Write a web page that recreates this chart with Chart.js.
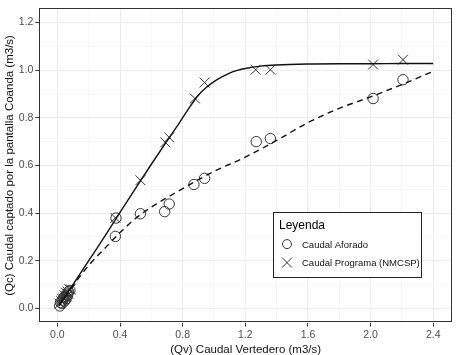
<!DOCTYPE html>
<html><head><meta charset="utf-8">
<script src="https://cdn.jsdelivr.net/npm/chart.js@4"></script>
<style>html,body{margin:0;padding:0;background:#fff}</style>
</head><body>
<canvas id="c" width="460" height="355"></canvas>
<script>
// ---- data ----
const aforadoX = [0.015,0.02,0.03,0.035,0.04,0.045,0.05,0.055,0.06,0.065,0.07,0.08,
  0.37,0.374,0.53,0.685,0.714,0.872,0.94,1.27,1.36,2.016,2.207];
const aforadoY = [0.01,0.025,0.02,0.035,0.045,0.03,0.05,0.04,0.06,0.055,0.07,0.075,
  0.302,0.379,0.397,0.406,0.438,0.52,0.546,0.70,0.713,0.881,0.96];
const programaX = [0.015,0.025,0.03,0.04,0.045,0.05,0.055,0.06,0.065,0.07,0.075,0.085,
  0.37,0.53,0.689,0.714,0.878,0.94,1.266,1.36,2.016,2.207];
const programaY = [0.02,0.03,0.04,0.04,0.055,0.045,0.065,0.05,0.07,0.06,0.08,0.08,
  0.38,0.538,0.697,0.718,0.881,0.948,1.002,1.002,1.024,1.044];
const curvaProgramaX = [0.01,0.1,0.2,0.3,0.4,0.5,0.6,0.7,0.78,0.85,0.9,0.95,1.0,1.05,1.1,1.15,1.2,1.3,1.4,1.6,1.8,2.0,2.2,2.4];
const curvaProgramaY = [0.01,0.1,0.2,0.3,0.403,0.505,0.605,0.703,0.78,0.85,0.895,0.927,0.952,0.972,0.988,0.999,1.007,1.017,1.022,1.026,1.027,1.027,1.028,1.028];
const curvaAforadoX = [0.01,0.1,0.2,0.3,0.4,0.5,0.6,0.7,0.8,0.9,1.0,1.2,1.4,1.6,1.8,2.0,2.2,2.4];
const curvaAforadoY = [0.01,0.095,0.18,0.25,0.318,0.378,0.425,0.465,0.503,0.54,0.575,0.635,0.705,0.78,0.84,0.888,0.94,0.995];
const xMajor = [0,0.4,0.8,1.2,1.6,2.0,2.4];
const xMinor = [0.2,0.6,1.0,1.4,1.8,2.2];
const xTickLabels = ['0.0','0.4','0.8','1.2','1.6','2.0','2.4'];
const yMajor = [0,0.2,0.4,0.6,0.8,1.0,1.2];
const yMinor = [0.1,0.3,0.5,0.7,0.9,1.1];
const yTickLabels = ['0.0','0.2','0.4','0.6','0.8','1.0','1.2'];
const labelAforado = 'Caudal Aforado';
const labelPrograma = 'Caudal Programa (NMCSP)';
const legendTitle = 'Leyenda';
const xTitle = '(Qv) Caudal Vertedero (m3/s)';
const yTitle = '(Qc) Caudal captado por la pantalla Coanda (m3/s)';

const zip = (xs, ys) => xs.map((x, i) => ({x, y: ys[i]}));
const FONT = "'Liberation Sans', Arial, sans-serif";
const isIn = (arr, v) => arr.some(a => Math.abs(a - v) < 1e-9);

function makeTicks(major, minor) {
  return scale => {
    scale.ticks = major.concat(minor).sort((a,b)=>a-b).map(v => ({value: v}));
  };
}

const panelBorder = {
  id: 'panelBorder',
  afterDatasetsDraw(chart) {
    const {ctx, chartArea: a} = chart;
    ctx.save();
    ctx.strokeStyle = '#333';
    ctx.lineWidth = 1;
    ctx.strokeRect(Math.round(a.left)+0.5, Math.round(a.top)+0.5, Math.round(a.right-a.left)-1, Math.round(a.bottom-a.top)-1);
    ctx.restore();
  }
};

const customLegend = {
  id: 'customLegend',
  afterDraw(chart) {
    const {ctx, chartArea: a} = chart;
    const left = a.right - 179, top = a.bottom - 111, w = 148, h = 65;
    ctx.save();
    ctx.fillStyle = '#fff';
    ctx.fillRect(left, top, w, h);
    ctx.strokeStyle = '#222';
    ctx.lineWidth = 1;
    ctx.strokeRect(Math.round(left)+0.5, Math.round(top)+0.5, w, h);
    ctx.fillStyle = '#000';
    ctx.textBaseline = 'alphabetic';
    ctx.font = `12px ${FONT}`;
    ctx.fillText(legendTitle, left + 6, top + 17);
    ctx.font = `9.5px ${FONT}`;
    const items = chart.data.datasets.filter(d => d.legend);
    items.forEach((d, i) => {
      const cy = top + 32.5 + i * 18.5;
      const cx = left + 14;
      ctx.strokeStyle = '#333';
      ctx.lineWidth = 1;
      ctx.beginPath();
      if (d.pointStyle === 'circle') {
        ctx.arc(cx, cy, 4.5, 0, Math.PI * 2);
      } else {
        ctx.moveTo(cx - 5, cy - 5); ctx.lineTo(cx + 5, cy + 5);
        ctx.moveTo(cx + 5, cy - 5); ctx.lineTo(cx - 5, cy + 5);
      }
      ctx.stroke();
      ctx.fillStyle = '#111';
      ctx.fillText(d.label, left + 29, cy + 3.5);
    });
    ctx.restore();
  }
};

new Chart(document.getElementById('c'), {
  type: 'scatter',
  data: {
    datasets: [
      { label: 'curva programa', data: zip(curvaProgramaX, curvaProgramaY), showLine: true,
        borderColor: '#111', borderWidth: 1.4, pointRadius: 0, cubicInterpolationMode: 'monotone', fill: false },
      { label: 'curva aforado', data: zip(curvaAforadoX, curvaAforadoY), showLine: true,
        borderColor: '#111', borderWidth: 1.4, borderDash: [6, 4.5], pointRadius: 0, cubicInterpolationMode: 'monotone', fill: false },
      { label: labelAforado, legend: true, data: zip(aforadoX, aforadoY), pointStyle: 'circle', pointRadius: 5.2,
        borderColor: '#333', backgroundColor: 'rgba(0,0,0,0)', borderWidth: 1, showLine: false },
      { label: labelPrograma, legend: true, data: zip(programaX, programaY), pointStyle: 'crossRot', pointRadius: 7,
        borderColor: '#333', backgroundColor: 'rgba(0,0,0,0)', borderWidth: 1, showLine: false }
    ]
  },
  options: {
    responsive: false,
    animation: false,
    devicePixelRatio: 1,
    layout: { padding: { left: 1, right: 0, top: 6, bottom: -2 } },
    plugins: { legend: { display: false }, tooltip: { enabled: false } },
    scales: {
      x: {
        type: 'linear', min: -0.115, max: 2.52,
        afterBuildTicks: makeTicks(xMajor, xMinor),
        ticks: {
          autoSkip: false, maxRotation: 0, padding: 2, color: '#4d4d4d',
          font: { family: FONT, size: 10.5 },
          callback: v => { const i = xMajor.findIndex(m => Math.abs(m - v) < 1e-9); return i >= 0 ? xTickLabels[i] : ''; }
        },
        grid: {
          color: c => isIn(xMajor, c.tick.value) ? '#ebebeb' : '#f3f3f3',
          lineWidth: c => isIn(xMajor, c.tick.value) ? 1 : 0.7,
          tickColor: c => isIn(xMajor, c.tick.value) ? '#333' : 'rgba(0,0,0,0)',
          tickLength: 4
        },
        border: { display: false },
        title: { display: true, text: xTitle, color: '#111', font: { family: FONT, size: 11.5 }, padding: { top: 0, bottom: 0 } }
      },
      y: {
        type: 'linear', min: -0.06, max: 1.26,
        afterBuildTicks: makeTicks(yMajor, yMinor),
        ticks: {
          autoSkip: false, padding: 2, color: '#4d4d4d',
          font: { family: FONT, size: 10.5 },
          callback: v => { const i = yMajor.findIndex(m => Math.abs(m - v) < 1e-9); return i >= 0 ? yTickLabels[i] : ''; }
        },
        grid: {
          color: c => isIn(yMajor, c.tick.value) ? '#ebebeb' : '#f3f3f3',
          lineWidth: c => isIn(yMajor, c.tick.value) ? 1 : 0.7,
          tickColor: c => isIn(yMajor, c.tick.value) ? '#333' : 'rgba(0,0,0,0)',
          tickLength: 4
        },
        border: { display: false },
        title: { display: true, text: yTitle, color: '#111', font: { family: FONT, size: 11.5 }, padding: { top: 2, bottom: 0 } }
      }
    }
  },
  plugins: [panelBorder, customLegend]
});
</script>
</body></html>
